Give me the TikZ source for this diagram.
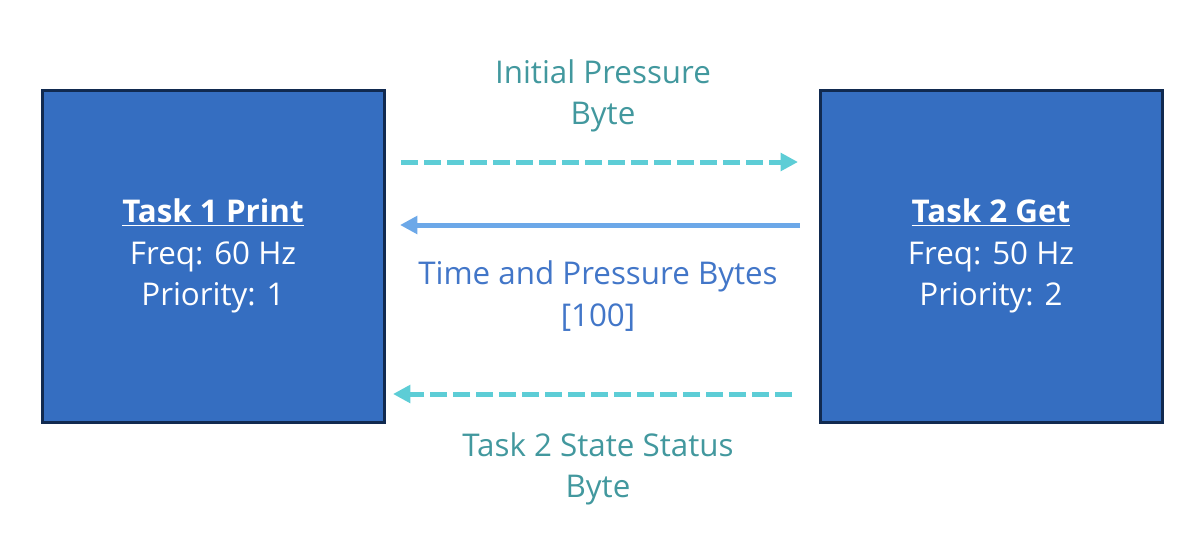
\documentclass[tikz,border=0pt]{standalone}
\usepackage{fontspec}
\setmainfont{Open Sans}
\usetikzlibrary{arrows.meta}

\definecolor{taskblue}{RGB}{53,110,193}
\definecolor{tasknavy}{RGB}{17,42,80}
\definecolor{msgcyan}{RGB}{93,205,214}
\definecolor{msgblue}{RGB}{108,168,232}
\definecolor{labelteal}{RGB}{66,152,158}
\definecolor{labelblue}{RGB}{66,118,200}

\tikzset{
  taskbox/.style={draw=tasknavy,line width=2.25pt,fill=taskblue,text=white,
    minimum width=256.5pt,minimum height=249pt,align=center,inner sep=0pt,
    font=\fontsize{23.5}{31}\selectfont},
  msgdash/.style={draw=msgcyan,line width=3.75pt,dash pattern=on 12.75pt off 4.5pt,
    -{Triangle[length=13pt,width=13pt]}},
  msgline/.style={draw=msgblue,line width=3.75pt,-{Triangle[length=13pt,width=13pt]}},
  msglabel/.style={align=center,inner sep=0pt,font=\fontsize{23.5}{31}\selectfont}
}

\begin{document}
\begin{tikzpicture}[x=0.75pt,y=0.75pt,yscale=-1]
\useasboundingbox (0,0) rectangle (1200,536);

% tasks
\node[taskbox] (task1) at (213,256) {\underline{\textbf{Task 1 Print}}\\Freq: 60 Hz\\Priority: 1};
\node[taskbox] (task2) at (991,256) {\underline{\textbf{Task 2 Get}}\\Freq: 50 Hz\\Priority: 2};

% arrow ends
\coordinate (initS) at (401,162);
\coordinate (initE) at (798,162);
\coordinate (timeS) at (800,225);
\coordinate (timeE) at (400,225);
\coordinate (statS) at (792,394);
\coordinate (statE) at (393,394);

% messages
\draw[msgdash] (initS) -- (initE);
\draw[msgline] (timeS) -- (timeE);
\draw[msgdash] (statS) -- (statE);

% labels
\node[msglabel,text=labelteal] (initlbl) at (603,96) {Initial Pressure\\Byte};
\node[msglabel,text=labelblue] (timelbl) at (598,296) {Time and Pressure Bytes\\{[100]}};
\node[msglabel,text=labelteal] (statlbl) at (598,469) {Task 2 State Status\\Byte};

\end{tikzpicture}
\end{document}
